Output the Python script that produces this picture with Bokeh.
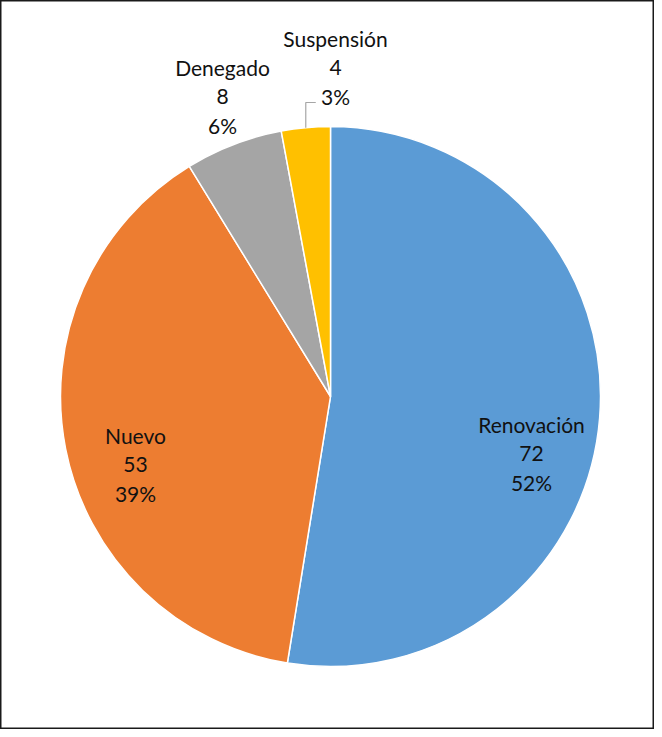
import math
from bokeh.plotting import figure
from bokeh.models import Range1d, ColumnDataSource
from bokeh.core.properties import value
from bokeh.embed import file_html
from bokeh.resources import INLINE

# ---- data ----
categories = ["Renovación", "Nuevo", "Denegado", "Suspensión"]
counts = [72, 53, 8, 4]
percents = ["52%", "39%", "6%", "3%"]
colors = ["#5B9BD5", "#ED7D31", "#A5A5A5", "#FFC000"]

# ---- layout (pixels, y measured from top of figure) ----
W, H = 654, 729
CX, CY_TOP, R = 330, 396, 270
# label block centres (x, y of first line) from top-left of figure
label_pos = [(531, 424), (135, 435), (222, 67), (335, 38)]
LINE_H = 29
FONT = "Lato"
FSIZE = "21px"

def Y(ytop):
    return H - ytop

p = figure(width=W, height=H, output_backend="svg", toolbar_location=None,
           x_range=Range1d(0, W), y_range=Range1d(0, H), min_border=0,
           background_fill_color="white", border_fill_color="white")
p.axis.visible = False
p.grid.visible = False
p.outline_line_color = "#1a1a1a"
p.outline_line_width = 2

total = sum(counts)
starts, ends, mids = [], [], []
cum = 0.0
for c in counts:
    a0 = math.pi / 2 - 2 * math.pi * (cum + c) / total
    a1 = math.pi / 2 - 2 * math.pi * cum / total
    starts.append(a0)
    ends.append(a1)
    mids.append((a0 + a1) / 2)
    cum += c

src = ColumnDataSource(dict(start=starts, end=ends, color=colors))
p.wedge(x=CX, y=Y(CY_TOP), radius=R, start_angle="start", end_angle="end",
        fill_color="color", line_color="white", line_width=1.5, source=src)

# leader line for Suspensión
m = mids[3]
ex = CX + R * math.cos(m)
ey = Y(CY_TOP) + R * math.sin(m)
p.line(x=[ex, ex, ex + 10], y=[ey, Y(102), Y(102)], line_color="#A6A6A6", line_width=1.2)

for i, cat in enumerate(categories):
    lx, ly = label_pos[i]
    lines = [cat, str(counts[i]), percents[i]]
    p.text(x=[lx] * 3, y=[Y(ly + k * LINE_H) for k in range(3)], text=lines,
           text_align="center", text_baseline="middle",
           text_font=value(FONT), text_font_size=FSIZE, text_color="#111111")

open("out.html", "w").write(file_html(p, INLINE))
